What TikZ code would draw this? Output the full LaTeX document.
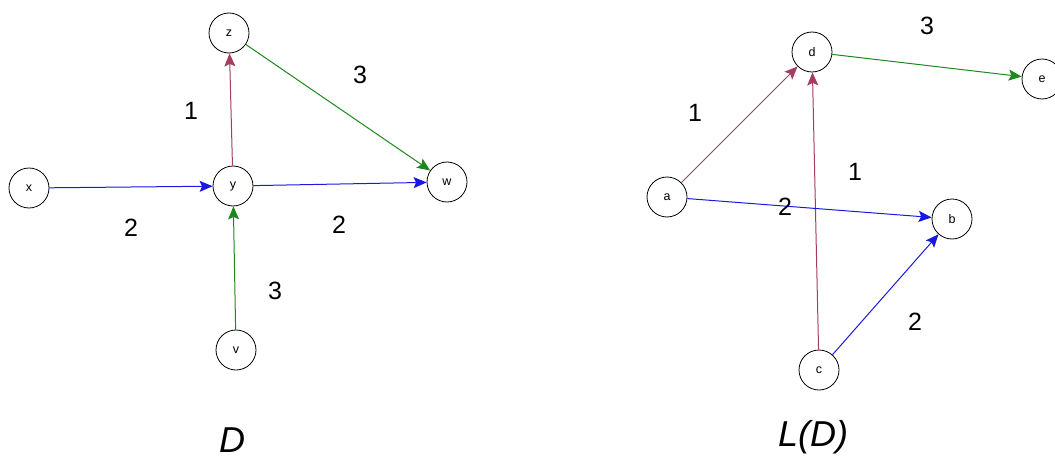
\documentclass[tikz,border=0pt]{standalone}
\usepackage{fontspec}
\setmainfont{Liberation Sans}
\usetikzlibrary{arrows.meta}
\definecolor{cmaroon}{RGB}{165,60,100}
\definecolor{cgreen}{RGB}{30,135,30}
\definecolor{cblue}{RGB}{25,25,225}
\tikzset{
  vert/.style={circle, draw=black, line width=0.8pt, minimum size=40pt, inner sep=0pt, font=\fontsize{12.5}{12.5}\selectfont, fill=white},
  wlab/.style={font=\fontsize{25}{25}\selectfont, inner sep=0pt},
  glab/.style={font=\fontsize{36}{36}\selectfont\itshape, inner sep=0pt},
  arc/.style={line width=1pt, -{Stealth[length=13pt,width=11pt,inset=2.5pt]}},
}
\begin{document}
\begin{tikzpicture}[x=1pt,y=-1pt]
\useasboundingbox (0,0) rectangle (1055,460);
% left graph D
\node[vert] (z) at (229,33) {z};
\node[vert] (x) at (29,188) {x};
\node[vert] (y) at (233,186) {y};
\node[vert] (w) at (447,182) {w};
\node[vert] (v) at (236,350) {v};
\draw[arc, cblue] (x) -- (y);
\draw[arc, cblue] (y) -- (w);
\draw[arc, cmaroon] (y) -- (z);
\draw[arc, cgreen] (z) -- (w);
\draw[arc, cgreen] (v) -- (y);
\node[wlab] (l1) at (191,111) {1};
\node[wlab] (l2) at (360,75) {3};
\node[wlab] (l3) at (131,228) {2};
\node[wlab] (l4) at (339,225) {2};
\node[wlab] (l5) at (275,291) {3};
\node[glab] (gD) at (232,440) {D};
% right graph L(D)
\node[vert] (d) at (812,52) {d};
\node[vert] (e) at (1042,79) {e};
\node[vert] (a) at (667,197) {a};
\node[vert] (b) at (952,219) {b};
\node[vert] (c) at (819,370) {c};
\draw[arc, cmaroon] (a) -- (d);
\draw[arc, cmaroon] (c) -- (d);
\draw[arc, cgreen] (d) -- (e);
\draw[arc, cblue] (a) -- (b);
\draw[arc, cblue] (c) -- (b);
\node[wlab] (m1) at (927,26) {3};
\node[wlab] (m2) at (695,113) {1};
\node[wlab] (m3) at (855,172) {1};
\node[wlab] (m4) at (785,207) {2};
\node[wlab] (m5) at (915,322) {2};
\node[glab] (gL) at (813,437) {L(D)};
\end{tikzpicture}
\end{document}
